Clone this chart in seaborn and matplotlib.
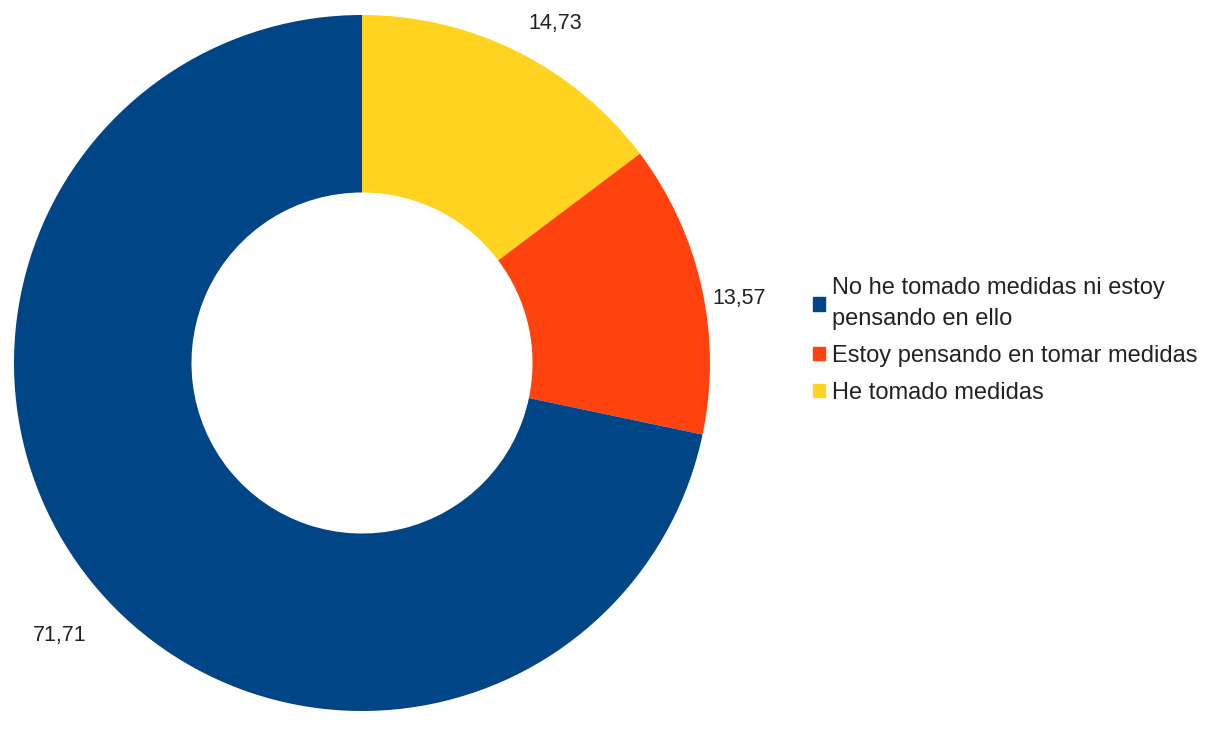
import matplotlib
matplotlib.use("Agg")
import numpy as np
import matplotlib.pyplot as plt
import matplotlib.patches as mpatches
import seaborn as sns

# Data
categories = ["He tomado medidas",
              "Estoy pensando en tomar medidas",
              "No he tomado medidas ni estoy\npensando en ello"]
values = [14.73, 13.57, 71.71]
colors = ["#ffd320", "#ff420e", "#004586"]

# label placement (radius, angle nudge in degrees, alignment)
label_style = [(1.087, 0.5, "left"), (1.023, -2.1, "left"), (1.114, 5.6, "right")]

sns.set_theme(style="white")
plt.rcParams['font.family'] = ['Liberation Sans', 'DejaVu Sans']

fig = plt.figure(figsize=(12.05, 7.37), dpi=100)
ax = fig.add_axes([14 / 1205, 26 / 737, 696 / 1205, 696 / 737])

wedges, _ = ax.pie(values, colors=colors, startangle=90, counterclock=False,
                   radius=1.0, wedgeprops=dict(width=0.51, edgecolor="none"))
ax.set_xlim(-1, 1)
ax.set_ylim(-1, 1)
ax.set_aspect("equal")
ax.axis("off")

for w, v, (r, nudge, ha) in zip(wedges, values, label_style):
    ang = np.deg2rad((w.theta1 + w.theta2) / 2 + nudge)
    ax.text(r * np.cos(ang), r * np.sin(ang), f"{v:.2f}".replace(".", ","),
            ha=ha, va="center", fontsize=15.5, color="#222222")

# legend in reverse order (blue, orange, yellow)
handles = [mpatches.Patch(color=c, label=l) for c, l in zip(colors[::-1], categories[::-1])]
leg = fig.legend(handles=handles, loc="upper left", bbox_to_anchor=(813 / 1205, 1 - 277 / 737),
                 frameon=False, fontsize=17, handlelength=0.5, handleheight=0.5,
                 handletextpad=0.3, labelspacing=0.62, borderaxespad=0, borderpad=0)
for t in leg.get_texts():
    t.set_color("#222222")
    t.set_linespacing(1.55)

fig.savefig("out.png", dpi=100, facecolor="white")
